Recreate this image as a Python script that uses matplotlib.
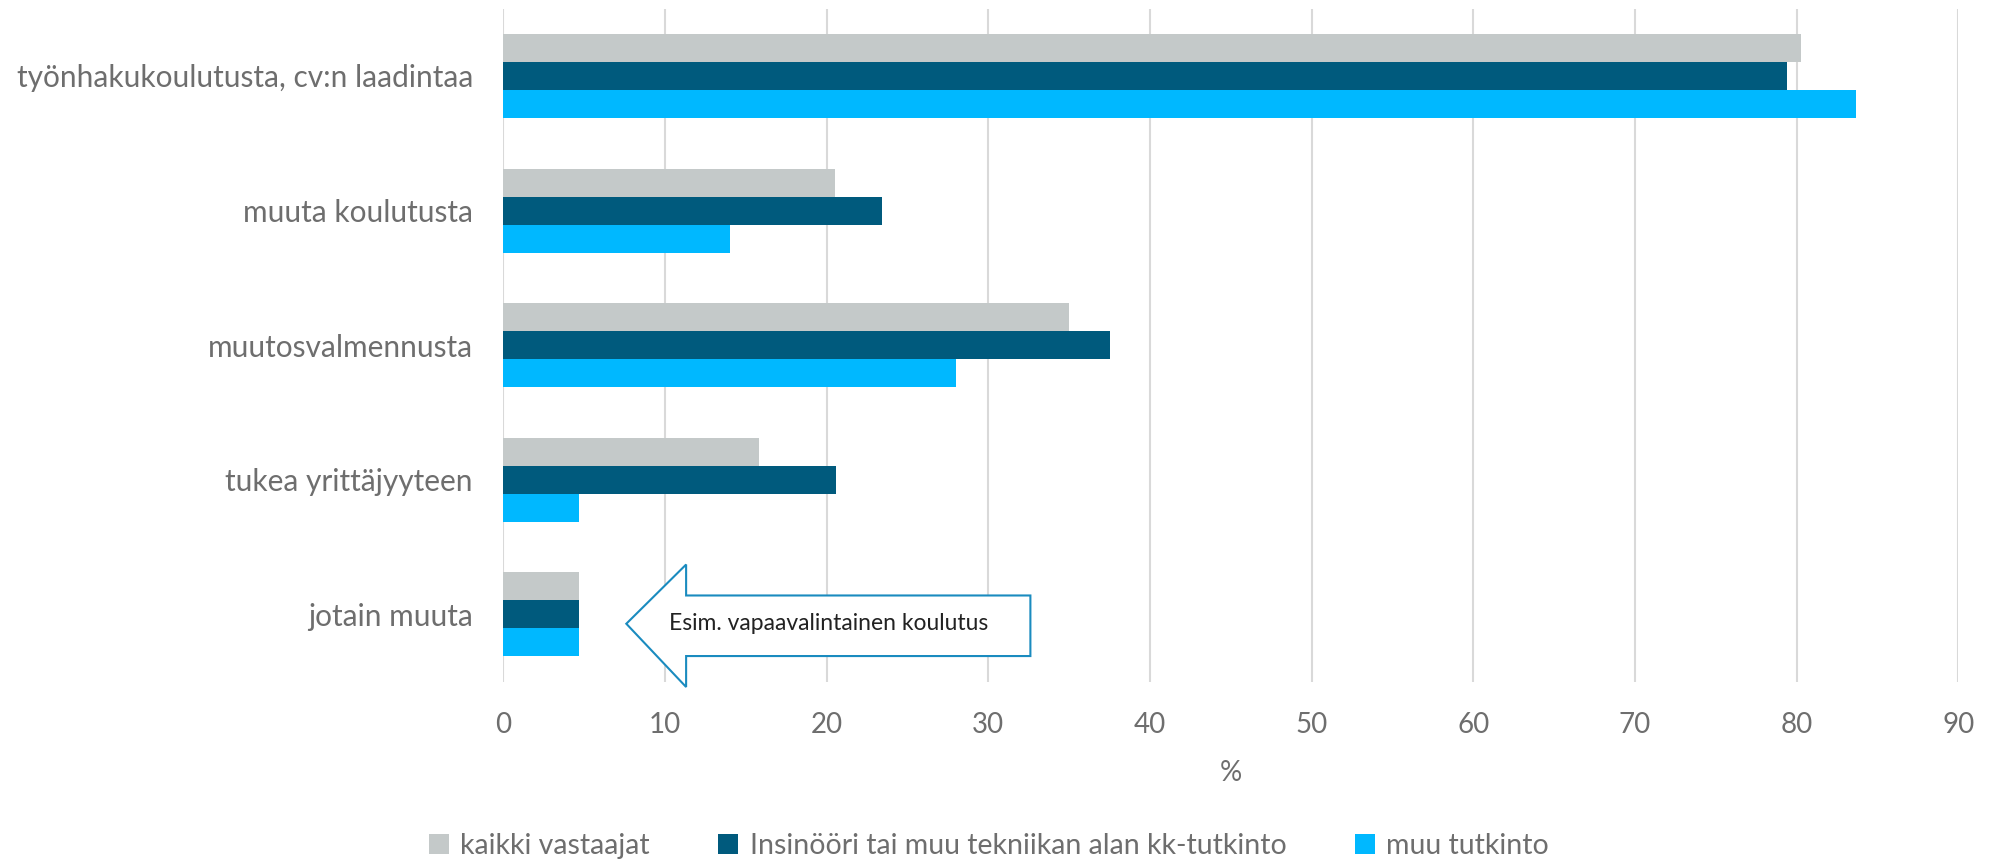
import numpy as np
from matplotlib import pyplot as plt
from matplotlib.patches import Polygon

plt.rcParams['font.family'] = ['Lato', 'DejaVu Sans']

categories = ["työnhakukoulutusta, cv:n laadintaa", "muuta koulutusta", "muutosvalmennusta",
              "tukea yrittäjyyteen", "jotain muuta"]
series_names = ["kaikki vastaajat", "Insinööri tai muu tekniikan alan kk-tutkinto", "muu tutkinto"]
kaikki = [80.3, 20.5, 35.0, 15.8, 4.7]
insinoori = [79.4, 23.4, 37.5, 20.6, 4.7]
muu = [83.7, 14.0, 28.0, 4.7, 4.7]
colors = ["#c4c9c9", "#005a7d", "#00b8ff"]
xticks = np.arange(0, 100, 10)

grey = "#6e6e6e"
fig = plt.figure(figsize=(19.9, 8.65), dpi=100)
ax = fig.add_axes([0.253, 0.212, 0.731, 0.778])

y = np.arange(len(categories))
h = 0.208
for k, (vals, name, c) in enumerate(zip([kaikki, insinoori, muu], series_names, colors)):
    ax.barh(y + (k - 1) * h, vals, height=h, color=c, label=name, zorder=2)

ax.set_ylim(len(categories) - 0.5, -0.5)
ax.set_xlim(0, 90)
ax.set_xticks(xticks)
ax.set_yticks(y)
ax.set_yticklabels(categories)
ax.tick_params(axis="both", length=0, labelsize=20, colors=grey)
ax.tick_params(axis="y", labelsize=21.5, pad=22)
ax.tick_params(axis="x", pad=22)
ax.grid(axis="x", color="#d9d9d9", linewidth=1.5, zorder=0)
for s in ax.spines.values():
    s.set_visible(False)
ax.set_xlabel("%", fontsize=20, color=grey, labelpad=16)

# arrow callout
arrow = Polygon([(7.6, 4.07), (11.3, 3.63), (11.3, 3.86), (32.6, 3.86), (32.6, 4.31),
                 (11.3, 4.31), (11.3, 4.54)], closed=True, facecolor="white",
                edgecolor="#1a8bbf", linewidth=1.5, clip_on=False, zorder=3)
ax.add_patch(arrow)
ax.text(20.1, 4.07, "Esim. vapaavalintainen koulutus", fontsize=16.5, color="#222222",
        ha="center", va="center", zorder=4)

leg = fig.legend(loc="center", bbox_to_anchor=(0.497, 0.022), ncol=3, frameon=False,
                 fontsize=20.5, handlelength=0.7, handleheight=0.7, columnspacing=2.4,
                 handletextpad=0.4)
for t in leg.get_texts():
    t.set_color(grey)

fig.savefig("out.png", dpi=100)
